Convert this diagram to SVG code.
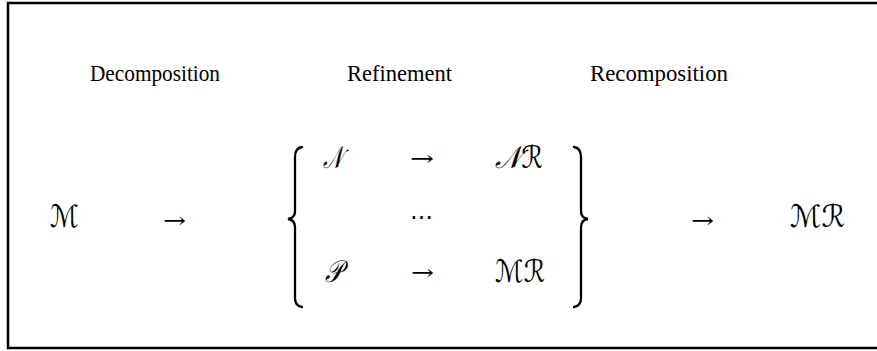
<svg xmlns="http://www.w3.org/2000/svg" width="877" height="351" viewBox="0 0 877 351">
<style>
.lbl{font-family:"Liberation Serif","Times New Roman",serif;font-size:23px;fill:#000}
.cal{font-family:"DejaVu Serif","DejaVu Sans",serif;font-style:italic;font-size:31px;fill:#000}
.sym{font-family:"DejaVu Serif","Liberation Serif",serif;font-size:22px;fill:#000}
.br{fill:none;stroke:#000;stroke-width:2.3;stroke-linecap:round}
.frame{fill:none;stroke:#000;stroke-width:2.5}
</style>
<rect width="877" height="351" fill="#fff"/>
<path class="frame" d="M877,3 H8 V348 H877"/>
<g id="labels">
<text class="lbl" x="90" y="81" textLength="130" lengthAdjust="spacingAndGlyphs">Decomposition</text>
<text class="lbl" x="347" y="81" textLength="105" lengthAdjust="spacingAndGlyphs">Refinement</text>
<text class="lbl" x="590" y="81" textLength="138" lengthAdjust="spacingAndGlyphs">Recomposition</text>
</g>
<g id="node-M"><text class="cal" x="50" y="227" textLength="29" lengthAdjust="spacingAndGlyphs">ℳ</text></g>
<g id="brace-left"><path class="br" d="M302,147 Q295,148 295,157 L295,211 Q295,218 288,219 Q295,220 295,227 L295,298 Q295,306 302,307"/></g>
<g id="node-N"><text class="cal" x="323" y="168" textLength="20" lengthAdjust="spacingAndGlyphs">𝒩</text></g>
<g id="node-NR"><text class="cal" x="495" y="168" textLength="48" lengthAdjust="spacingAndGlyphs">𝒩ℛ</text></g>
<g id="dots"><text class="sym" x="410" y="224" textLength="23" lengthAdjust="spacingAndGlyphs">⋯</text></g>
<g id="node-P"><text class="cal" x="325" y="282" textLength="17" lengthAdjust="spacingAndGlyphs">𝒫</text></g>
<g id="node-MR1"><text class="cal" x="495" y="282" textLength="50" lengthAdjust="spacingAndGlyphs">ℳℛ</text></g>
<g id="brace-right"><path class="br" d="M574,147 Q581,148 581,157 L581,211 Q581,218 588,219 Q581,220 581,227 L581,298 Q581,306 574,307"/></g>
<g id="node-MR2"><text class="cal" x="790" y="227" textLength="55" lengthAdjust="spacingAndGlyphs">ℳℛ</text></g>
<g id="connectors">
<text class="sym" x="163" y="228" textLength="23" lengthAdjust="spacingAndGlyphs">→</text>
<text class="sym" x="410" y="166" textLength="24" lengthAdjust="spacingAndGlyphs">→</text>
<text class="sym" x="411" y="280" textLength="23" lengthAdjust="spacingAndGlyphs">→</text>
<text class="sym" x="691" y="228" textLength="23" lengthAdjust="spacingAndGlyphs">→</text>
</g>
</svg>
